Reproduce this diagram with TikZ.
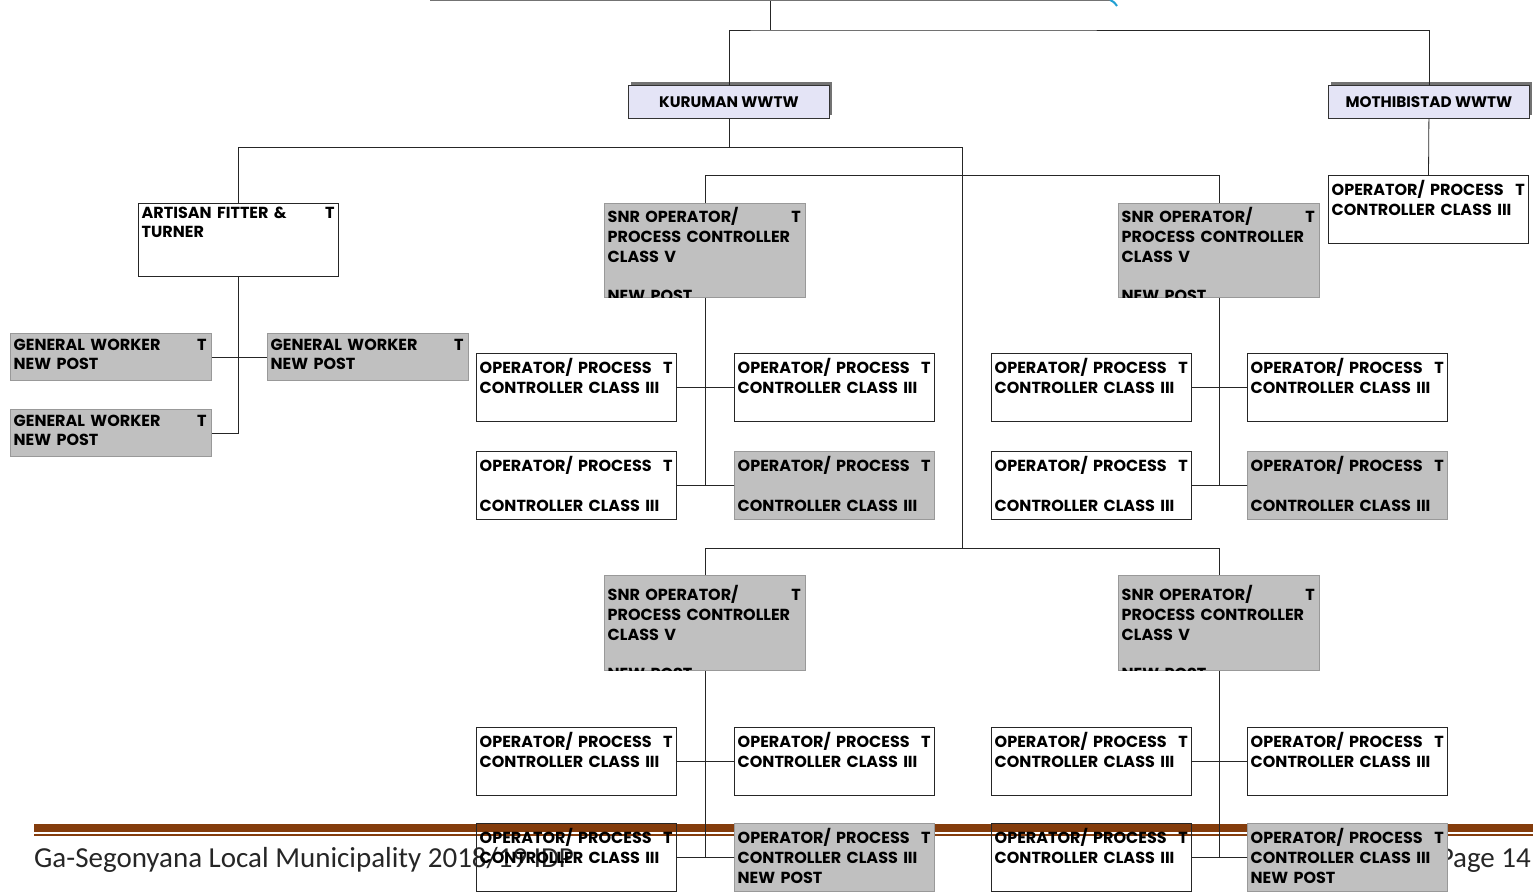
\documentclass[tikz,border=0pt]{standalone}
\usepackage{fontspec}
\newfontfamily\boxfont{Poppins}
\newfontfamily\footfont{Carlito}
\usepackage{tikz}
\usetikzlibrary{positioning,shadows}
\usepackage{xcolor}
\definecolor{boxgray}{HTML}{C0C0C0}
\definecolor{wwtwfill}{HTML}{E4E4F6}
\definecolor{footbrown}{HTML}{843C0C}
\newcommand{\Tmark}{\hskip 0pt plus 1filll T}

\begin{document}
\begin{tikzpicture}[x=1pt,y=-1pt,every node/.style={inner sep=0pt},
  wire/.style={draw=black!85,line width=0.8pt},
  opbox/.style={draw=black!85,line width=1pt,minimum width=200pt,minimum height=68pt,anchor=north west},
  whitebox/.style={},
  greybox/.style={fill=boxgray,draw=black!40,line width=0.8pt},
  wwtw/.style={draw=black!80,line width=0.8pt,fill=wwtwfill,minimum width=201pt,minimum height=33pt,anchor=north west,
    font=\boxfont\bfseries\fontsize{15.3}{18}\selectfont,
    drop shadow={shadow xshift=3pt,shadow yshift=3pt,fill=black!55,opacity=1}},
  postxt/.style={anchor=north west,text width=193pt,align=left,font=\boxfont\bfseries\fontsize{16}{19.7}\selectfont,xshift=3.5pt,yshift=-5.5pt},
  foot/.style={font=\footfont\fontsize{29}{34}\selectfont,text=black!85}]
\useasboundingbox (0,0) rectangle (1533,892);
\clip (0,0) rectangle (1533,892);
% page footer (lies under the chart)
\fill[footbrown] (34,824) rectangle (1533,832);
\fill[footbrown] (34,834) rectangle (1533,835.5);
\node[foot,anchor=base west] (ftl) at (34,867) {Ga-Segonyana Local Municipality 2018/19 IDP};
\node[foot,anchor=base east] (ftr) at (1531,867) {Page 14};
% head box, only its lower edge is on this page
\node[draw=black!55,line width=1.5pt,minimum width=680pt,minimum height=40pt,anchor=south west] (top) at (430,1) {};
\draw[cyan!70!teal,line width=2pt] (1110,0) .. controls (1114,2) .. (1117,6);
% works
\node[wwtw] (kur) at (628,85) {KURUMAN WWTW};
\node[wwtw] (mot) at (1328,85) {MOTHIBISTAD WWTW};
% artisan and general workers
\node[opbox,minimum height=73pt] (art) at (138,203) {};
\node[postxt,yshift=2pt] (art-t) at (art.north west) {ARTISAN FITTER \&\Tmark\\TURNER};
\foreach \n/\x/\y in {g1/10/333,g2/267/333,g3/10/409}{
  \node[opbox,greybox,minimum width=201pt,minimum height=47pt] (\n) at (\x,\y) {};
  \node[postxt] (\n-t) at (\n.north west) {GENERAL WORKER\Tmark\\NEW POST};
}
% senior operators
\foreach \s/\x/\y/\h/\dy in {s1/604/203/94/1,s2/1118/203/94/1,s3/604/575/95/-5,s4/1118/575/95/-5}{
  \node[opbox,greybox,minimum width=201pt,minimum height=\h pt] (\s) at (\x,\y) {};
  \begin{scope}
    \clip (\s.north west) rectangle (\s.south east);
    \node[postxt,yshift=\dy pt] (\s-t) at (\s.north west) {SNR OPERATOR/\Tmark\\PROCESS CONTROLLER\\CLASS V\\[19.7pt]NEW POST};
  \end{scope}
}
% operators, two lines
\foreach \n/\x/\y in {m1/1328/175,a1/476/353,a2/734/353,b1/991/353,b2/1247/353,c1/476/727,c2/734/727,d1/991/727,d2/1247/727,c3/476/823,d3/991/823}{
  \node[opbox] (\n) at (\x,\y) {};
  \node[postxt] (\n-t) at (\n.north west) {OPERATOR/ PROCESS\Tmark\\CONTROLLER CLASS III};
}
% operators, gap line
\foreach \n/\x/\st in {a3/476/whitebox,a4/734/greybox,b3/991/whitebox,b4/1247/greybox}{
  \node[opbox,\st] (\n) at (\x,451) {};
  \node[postxt] (\n-t) at (\n.north west) {OPERATOR/ PROCESS\Tmark\\[19.7pt]CONTROLLER CLASS III};
}
% operators, new posts
\foreach \n/\x in {c4/734,d4/1247}{
  \node[opbox,greybox] (\n) at (\x,823) {};
  \node[postxt] (\n-t) at (\n.north west) {OPERATOR/ PROCESS\Tmark\\CONTROLLER CLASS III\\NEW POST};
}
% connectors
\draw[wire] (top.south) -- ++(0,29) coordinate (t1);
\draw[wire] (kur.north) |- (t1) -| (mot.north);
\draw[wire] (mot.south) -- (m1.north);
\draw[wire] (kur.south) -- ++(0,29) coordinate (k1);
\coordinate (k2) at (962,548);
\draw[wire] (art.north) |- (k1) -| (k2);
\draw[wire] (s1.north) -- ++(0,-28) -| (s2.north);
\draw[wire] (s3.north) |- (k2) -| (s4.north);
\draw[wire] (art.south) -- (art.south |- g3.east) -- (g3.east);
\draw[wire] (g1.east) -- (g2.west);
\foreach \s/\p/\q/\r/\t in {s1/a1/a2/a3/a4,s2/b1/b2/b3/b4,s3/c1/c2/c3/c4,s4/d1/d2/d3/d4}{
  \draw[wire] (\s.south) -- (\s.south |- \r.east);
  \draw[wire] (\p.east) -- (\q.west);
  \draw[wire] (\r.east) -- (\t.west);
}
\end{tikzpicture}
\end{document}
